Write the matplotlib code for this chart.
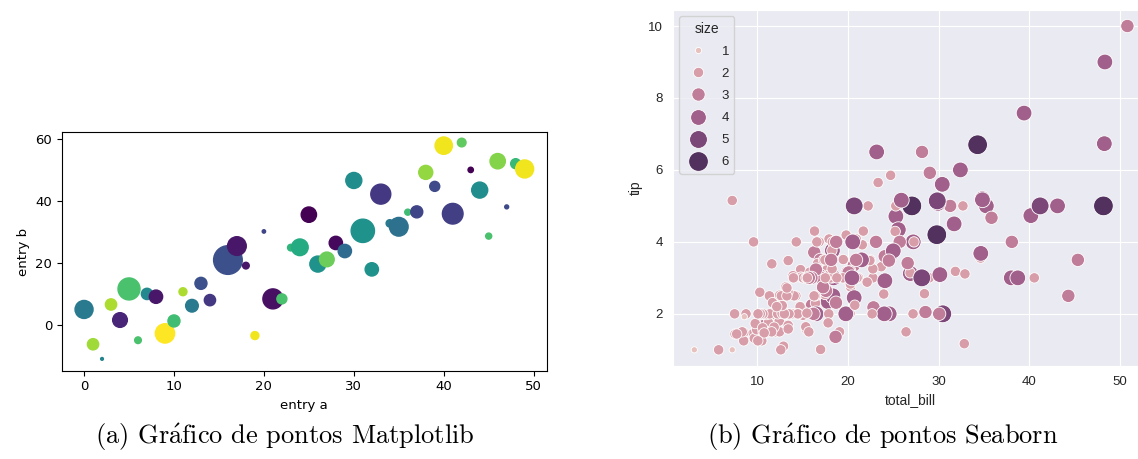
import numpy as np
import pandas as pd
import matplotlib
matplotlib.use('Agg')
import matplotlib.pyplot as plt
import seaborn as sns

# left panel: entry a / entry b, colour and size per point
entry_a = list(range(50))
entry_b = [5.0, -6.2, -10.9, 6.6, 1.6, 11.6, -4.9, 10.0, 9.1, -2.7,
           1.3, 10.7, 6.2, 13.4, 8.0, 22.0, 20.9, 25.4, 19.1, -3.4,
           30.1, 8.4, 8.4, 24.9, 25.0, 35.5, 19.6, 21.1, 26.4, 23.8,
           46.5, 30.3, 17.9, 42.1, 32.7, 31.6, 36.3, 36.4, 49.1, 44.6,
           57.7, 35.8, 58.7, 49.9, 43.4, 28.6, 52.7, 38.0, 51.9, 50.2]
entry_c = [20, 42, 22, 43, 5, 35, 35, 23, 3, 49,
           34, 43, 20, 12, 8, 33, 12, 3, 3, 48,
           10, 2, 35, 32, 30, 0, 25, 38, 1, 17,
           24, 25, 25, 8, 20, 18, 34, 10, 41, 11,
           48, 9, 37, 0, 24, 35, 40, 11, 33, 48]
entry_d = [168, 66, 4, 66, 112, 251, 23, 66, 92, 194,
           75, 33, 83, 75, 66, 23, 426, 181, 23, 33,
           6, 207, 52, 23, 144, 122, 133, 112, 92, 92,
           133, 282, 92, 207, 28, 181, 19, 75, 102, 52,
           156, 221, 39, 15, 133, 19, 122, 8, 52, 168]

# right panel: restaurant tips
total_bill = [16.99, 10.34, 21.01, 23.68, 24.59, 25.29, 8.77, 26.88, 15.04, 14.78,
              10.27, 35.26, 15.42, 18.43, 14.83, 21.58, 10.33, 16.29, 16.97, 20.65,
              17.92, 20.29, 15.77, 39.42, 19.82, 17.81, 13.37, 12.69, 21.70, 19.65,
              9.55, 18.35, 15.06, 20.69, 17.78, 24.06, 16.31, 16.93, 18.69, 31.27,
              16.04, 17.46, 13.94, 9.68, 30.40, 18.29, 22.23, 32.40, 28.55, 18.04,
              12.54, 10.29, 34.81, 9.94, 25.56, 19.49, 38.01, 26.41, 11.24, 48.27,
              20.29, 13.81, 11.02, 18.29, 17.59, 20.08, 16.45, 3.07, 20.23, 15.01,
              12.02, 17.07, 26.86, 25.28, 14.73, 10.51, 17.92, 27.20, 22.76, 17.29,
              19.44, 16.66, 10.07, 32.68, 15.98, 34.83, 13.03, 18.28, 24.71, 21.16,
              28.97, 22.49, 5.75, 16.32, 22.75, 40.17, 27.28, 12.03, 21.01, 12.46,
              11.35, 15.38, 44.30, 22.42, 20.92, 15.36, 20.49, 25.21, 18.24, 14.31,
              14.00, 7.25, 38.07, 23.95, 25.71, 17.31, 29.93, 10.65, 12.43, 24.08,
              11.69, 13.42, 14.26, 15.95, 12.48, 29.80, 8.52, 14.52, 11.38, 22.82,
              19.08, 20.27, 11.17, 12.26, 18.26, 8.51, 10.33, 14.15, 16.00, 13.16,
              17.47, 34.30, 41.19, 27.05, 16.43, 8.35, 18.64, 11.87, 9.78, 7.51,
              14.07, 13.13, 17.26, 24.55, 19.77, 29.85, 48.17, 25.00, 13.39, 16.49,
              21.50, 12.66, 16.21, 13.81, 17.51, 24.52, 20.76, 31.71, 10.59, 10.63,
              50.81, 15.81, 7.25, 31.85, 16.82, 32.90, 17.89, 14.48, 9.60, 34.63,
              34.65, 23.33, 45.35, 23.17, 40.55, 20.69, 20.90, 30.46, 18.15, 23.10,
              15.69, 19.81, 28.44, 15.48, 16.58, 7.56, 10.34, 43.11, 13.00, 13.51,
              18.71, 12.74, 13.00, 16.40, 20.53, 16.47, 26.59, 38.73, 24.27, 12.76,
              30.06, 25.89, 48.33, 13.27, 28.17, 12.90, 28.15, 11.59, 7.74, 30.14,
              12.16, 13.42, 8.58, 15.98, 13.42, 16.27, 10.09, 20.45, 13.28, 22.12,
              24.01, 15.69, 11.61, 10.77, 15.53, 10.07, 12.60, 32.83, 35.83, 29.03,
              27.18, 22.67, 17.82, 18.78]
tip = [1.01, 1.66, 3.50, 3.31, 3.61, 4.71, 2.00, 3.12, 1.96, 3.23,
       1.71, 5.00, 1.57, 3.00, 3.02, 3.92, 1.67, 3.71, 3.50, 3.35,
       4.08, 2.75, 2.23, 7.58, 3.18, 2.34, 2.00, 2.00, 4.30, 3.00,
       1.45, 2.50, 3.00, 2.45, 3.27, 3.60, 2.00, 3.07, 2.31, 5.00,
       2.24, 2.54, 3.06, 1.32, 5.60, 3.00, 5.00, 6.00, 2.05, 3.00,
       2.50, 2.60, 5.20, 1.56, 4.34, 3.51, 3.00, 1.50, 1.76, 6.73,
       3.21, 2.00, 1.98, 3.76, 2.64, 3.15, 2.47, 1.00, 2.01, 2.09,
       1.97, 3.00, 3.14, 5.00, 2.20, 1.25, 3.08, 4.00, 3.00, 2.71,
       3.00, 3.40, 1.83, 5.00, 2.03, 5.17, 2.00, 4.00, 5.85, 3.00,
       3.00, 3.50, 1.00, 4.30, 3.25, 4.73, 4.00, 1.50, 3.00, 1.50,
       2.50, 3.00, 2.50, 3.48, 4.08, 1.64, 4.06, 4.29, 3.76, 4.00,
       3.00, 1.00, 4.00, 2.55, 4.00, 3.50, 5.07, 1.50, 1.80, 2.92,
       2.31, 1.68, 2.50, 2.00, 2.52, 4.20, 1.48, 2.00, 2.00, 2.18,
       1.50, 2.83, 1.50, 2.00, 3.25, 1.25, 2.00, 2.00, 2.00, 2.75,
       3.50, 6.70, 5.00, 5.00, 2.30, 1.50, 1.36, 1.63, 1.73, 2.00,
       2.50, 2.00, 2.74, 2.00, 2.00, 5.14, 5.00, 3.75, 2.61, 2.00,
       3.50, 2.50, 2.00, 2.00, 3.00, 3.48, 2.24, 4.50, 1.61, 2.00,
       10.00, 3.16, 5.15, 3.18, 4.00, 3.11, 2.00, 2.00, 4.00, 3.55,
       3.68, 5.65, 3.50, 6.50, 3.00, 5.00, 3.50, 2.00, 3.50, 4.00,
       1.50, 4.19, 2.56, 2.02, 4.00, 1.44, 2.00, 5.00, 2.00, 2.00,
       4.00, 2.01, 2.00, 2.50, 4.00, 3.23, 3.41, 3.00, 2.03, 2.23,
       2.00, 5.16, 9.00, 2.50, 6.50, 1.10, 3.00, 1.50, 1.44, 3.09,
       2.20, 3.48, 1.92, 3.00, 1.58, 2.50, 2.00, 3.00, 2.72, 2.88,
       2.00, 3.00, 3.39, 1.47, 3.00, 1.25, 1.00, 1.17, 4.67, 5.92,
       2.00, 2.00, 1.75, 3.00]
party_size = [2, 3, 3, 2, 4, 4, 2, 4, 2, 2,
              2, 4, 2, 4, 2, 2, 3, 3, 3, 3,
              2, 2, 2, 4, 2, 4, 2, 2, 2, 2,
              2, 4, 2, 4, 2, 3, 3, 3, 3, 3,
              3, 2, 2, 2, 4, 2, 2, 4, 3, 2,
              2, 2, 4, 2, 4, 2, 4, 2, 2, 4,
              2, 2, 2, 4, 3, 3, 2, 1, 2, 2,
              2, 3, 2, 2, 2, 2, 2, 4, 2, 2,
              2, 2, 1, 2, 2, 4, 2, 2, 2, 2,
              2, 2, 2, 2, 2, 4, 2, 2, 2, 2,
              2, 2, 3, 2, 2, 2, 2, 2, 2, 2,
              2, 1, 3, 2, 3, 2, 4, 2, 2, 4,
              2, 2, 2, 2, 2, 6, 2, 2, 2, 3,
              2, 2, 2, 2, 2, 2, 2, 2, 2, 2,
              2, 6, 5, 6, 2, 2, 3, 2, 2, 2,
              2, 2, 3, 4, 4, 5, 6, 4, 2, 4,
              4, 2, 3, 2, 2, 3, 2, 4, 2, 2,
              3, 2, 2, 2, 2, 2, 2, 2, 2, 2,
              4, 2, 3, 4, 2, 5, 3, 5, 3, 3,
              2, 2, 2, 2, 2, 2, 2, 4, 2, 2,
              3, 2, 2, 2, 4, 3, 3, 4, 2, 2,
              3, 4, 4, 2, 3, 2, 5, 2, 2, 4,
              2, 2, 1, 3, 2, 2, 2, 4, 2, 2,
              4, 3, 2, 2, 2, 2, 2, 2, 3, 3,
              2, 2, 2, 2]

tips = pd.DataFrame({'total_bill': total_bill, 'tip': tip, 'size': party_size})

plt.rcParams['mathtext.fontset'] = 'cm'
fig = plt.figure(figsize=(11.38, 4.59), dpi=100)

# (a) matplotlib scatter
ax1 = fig.add_axes([0.0545, 0.1924, 0.4259, 0.5194])
ax1.scatter(entry_a, entry_b, c=entry_c, s=entry_d)
ax1.set_xlim(-2.45, 51.45)
ax1.set_ylim(-14.7, 62.0)
ax1.set_xticks([0, 10, 20, 30, 40, 50])
ax1.set_yticks([0, 20, 40, 60])
ax1.tick_params(labelsize=9.5)
ax1.set_xlabel('entry a', fontsize=9.5)
ax1.set_ylabel('entry b', fontsize=9.5)

# (b) seaborn scatter
pal = sns.cubehelix_palette(light=0.8, dark=0.25, as_cmap=True)
with sns.axes_style('darkgrid'):
    ax2 = fig.add_axes([0.5911, 0.2026, 0.4186, 0.776])
    sns.scatterplot(data=tips, x='total_bill', y='tip', hue='size', size='size',
                    sizes=(20, 200), palette=pal, legend='full', ax=ax2)
    try:
        sns.move_legend(ax2, 'upper left', labelspacing=0.75,
                        prop={'family': 'Liberation Sans', 'size': 9.5},
                        title_fontsize=10)
    except Exception:
        pass
ax2.set_xticks([10, 20, 30, 40, 50])
ax2.set_yticks([2, 4, 6, 8, 10])
for lab in ax2.get_xticklabels() + ax2.get_yticklabels():
    lab.set_fontfamily('Liberation Sans')
    lab.set_fontsize(9.5)
    lab.set_color('.15')
ax2.set_xlabel('total_bill', fontsize=10, family='Liberation Sans', color='.15')
ax2.set_ylabel('tip', fontsize=10, family='Liberation Sans', color='.15')
leg = ax2.get_legend()
if leg is not None:
    for t in leg.get_texts():
        t.set_fontfamily('Liberation Sans')
        t.set_fontsize(9.5)
        t.set_color('.15')
    leg.get_title().set_fontfamily('Liberation Sans')
    leg.get_title().set_fontsize(10)
    leg.get_title().set_color('.15')

# captions
fig.text(0.25, 0.048, r'(a) Gr$\acute{\mathrm{a}}$fico de pontos Matplotlib',
         family='cmr10', fontsize=19, ha='center', va='center')
fig.text(0.776, 0.048, r'(b) Gr$\acute{\mathrm{a}}$fico de pontos Seaborn',
         family='cmr10', fontsize=19, ha='center', va='center')

fig.savefig('out.png', dpi=100)
